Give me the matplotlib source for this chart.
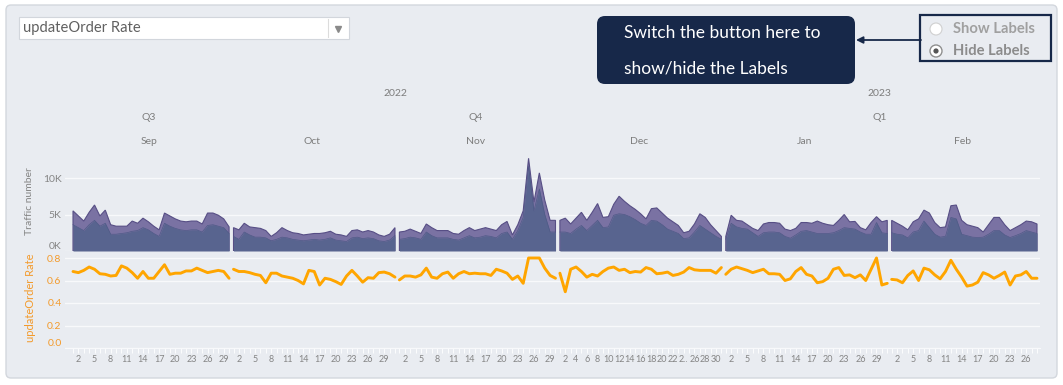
import matplotlib
matplotlib.use('Agg')
import matplotlib.pyplot as plt
from matplotlib.patches import FancyBboxPatch, Rectangle, Circle
import numpy as np

# ---------------- data ----------------
months = ['Sep', 'Oct', 'Nov', 'Dec', 'Jan', 'Feb']
quarters = [('Q3', [0]), ('Q4', [1, 2, 3]), ('Q1', [4, 5])]
years = [('2022', [0, 1, 2, 3]), ('2023', [4, 5])]

sep_total = [5.5, 4.8, 4.1, 5.3, 6.3, 4.8, 5.6, 3.6, 3.4, 3.4, 3.4, 4.1, 3.8, 4.5, 4.0,
             3.4, 2.9, 5.2, 4.8, 4.4, 4.1, 4.0, 4.1, 4.1, 3.7, 5.2, 5.2, 4.9, 4.4, 3.3]
sep_sub = [3.6, 3.2, 2.8, 3.6, 4.2, 3.4, 3.8, 2.3, 2.3, 2.4, 2.5, 2.7, 2.8, 3.2, 2.9,
           2.4, 2.0, 3.8, 3.4, 3.1, 2.9, 2.8, 2.9, 2.9, 2.6, 3.5, 3.6, 3.4, 3.2, 2.4]
oct_total = [3.2, 2.9, 3.8, 3.3, 3.2, 3.1, 2.8, 2.0, 2.5, 3.2, 2.8, 2.5, 2.4, 2.2, 2.3, 2.4,
             2.4, 2.5, 2.7, 2.3, 2.2, 2.0, 2.8, 2.9, 2.6, 2.8, 2.6, 2.2, 2.0, 2.3, 3.2]
oct_sub = [2.0, 1.6, 2.6, 2.2, 1.9, 1.9, 1.8, 1.4, 1.6, 1.9, 1.8, 1.6, 1.5, 1.4, 1.5, 1.6,
           1.5, 1.6, 1.8, 1.5, 1.4, 1.3, 1.8, 1.9, 1.7, 1.8, 1.7, 1.4, 1.3, 1.5, 2.1]
nov_total = [2.6, 2.7, 3.0, 2.7, 2.4, 3.7, 3.2, 2.8, 2.8, 2.8, 2.4, 2.3, 2.8, 3.2, 2.8,
             3.0, 3.2, 3.0, 2.8, 3.6, 4.05, 2.2, 3.6, 5.5, 12.7, 6.7, 10.7, 7.0, 4.2, 4.2]
nov_sub = [1.6, 1.7, 1.9, 1.8, 1.6, 2.6, 2.1, 1.8, 1.8, 1.8, 1.6, 1.5, 1.8, 2.1, 1.8,
           1.9, 2.1, 2.0, 1.8, 2.4, 2.6, 1.6, 2.8, 4.6, 11.6, 5.5, 8.5, 5.0, 2.6, 2.6]
dec_total = [4.2, 4.5, 3.7, 4.5, 5.3, 4.2, 5.3, 6.5, 4.6, 4.7, 6.4, 7.5, 6.8, 6.2, 5.7, 5.1,
             4.4, 5.8, 5.9, 5.2, 4.5, 4.0, 3.5, 2.5, 2.7, 3.7, 5.1, 4.6, 3.6, 2.8, 2.0]
dec_sub = [2.6, 2.6, 2.4, 3.0, 3.5, 2.8, 3.5, 4.2, 3.2, 3.3, 4.9, 5.1, 5.0, 4.7, 4.3, 3.8,
           3.5, 4.2, 4.1, 3.6, 3.0, 2.7, 2.4, 1.7, 1.8, 2.6, 3.5, 3.0, 2.5, 2.0, 1.6]
jan_total = [2.0, 4.9, 4.2, 4.1, 3.6, 3.1, 2.8, 3.7, 3.9, 3.9, 3.8, 3.0, 2.8, 3.1, 3.9, 3.9,
             3.8, 4.1, 3.8, 3.6, 3.5, 4.2, 5.0, 4.0, 4.05, 3.2, 2.9, 3.9, 4.7, 4.0, 4.2]
jan_sub = [1.6, 3.8, 3.3, 3.1, 3.0, 2.5, 2.0, 2.5, 2.6, 2.6, 2.5, 2.0, 1.75, 2.2, 2.7, 2.8,
           2.6, 2.4, 2.4, 2.4, 2.5, 2.8, 3.2, 3.1, 3.0, 2.6, 2.3, 2.3, 3.9, 2.5, 2.4]
feb_total = [4.2, 3.8, 3.4, 2.9, 4.0, 4.4, 5.6, 5.2, 3.9, 3.2, 3.3, 6.2, 6.3, 4.2, 3.6, 3.4,
             3.2, 2.6, 3.6, 4.6, 4.6, 3.6, 2.8, 3.2, 3.6, 4.1, 4.0, 3.7]
feb_sub = [2.5, 2.3, 2.2, 1.8, 2.6, 2.8, 4.1, 3.2, 2.3, 1.9, 2.0, 4.6, 4.4, 2.3, 2.1, 1.9,
           1.85, 1.9, 2.3, 2.8, 2.8, 2.2, 1.85, 2.1, 2.4, 2.8, 2.6, 2.4]

sep_rate = [0.68, 0.67, 0.69, 0.72, 0.70, 0.66, 0.655, 0.64, 0.645, 0.73, 0.71, 0.67, 0.62, 0.68,
            0.62, 0.62, 0.68, 0.74, 0.655, 0.665, 0.665, 0.685, 0.685, 0.71, 0.69, 0.67, 0.68,
            0.69, 0.68, 0.62]
oct_rate = [0.70, 0.68, 0.68, 0.67, 0.655, 0.645, 0.58, 0.665, 0.665, 0.64, 0.63, 0.62, 0.60,
            0.57, 0.69, 0.68, 0.56, 0.62, 0.61, 0.59, 0.565, 0.64, 0.69, 0.64, 0.585, 0.625,
            0.62, 0.67, 0.675, 0.66, 0.63]
nov_rate = [0.605, 0.64, 0.64, 0.63, 0.65, 0.71, 0.63, 0.62, 0.66, 0.675, 0.62, 0.66, 0.68,
            0.66, 0.665, 0.66, 0.66, 0.645, 0.70, 0.685, 0.665, 0.61, 0.64, 0.575, 0.80, 0.80,
            0.80, 0.71, 0.645, 0.62]
dec_rate = [0.665, 0.50, 0.70, 0.72, 0.68, 0.63, 0.655, 0.64, 0.68, 0.71, 0.72, 0.69, 0.70,
            0.67, 0.68, 0.675, 0.715, 0.70, 0.66, 0.665, 0.675, 0.645, 0.655, 0.675, 0.715,
            0.695, 0.69, 0.69, 0.69, 0.665, 0.715]
jan_rate = [0.655, 0.70, 0.72, 0.705, 0.69, 0.67, 0.685, 0.70, 0.66, 0.66, 0.655, 0.60, 0.615,
            0.68, 0.715, 0.655, 0.64, 0.58, 0.59, 0.62, 0.70, 0.715, 0.645, 0.65, 0.625, 0.65,
            0.60, 0.70, 0.80, 0.56, 0.575]
feb_rate = [0.61, 0.605, 0.58, 0.645, 0.685, 0.60, 0.71, 0.695, 0.65, 0.615, 0.68, 0.78, 0.70,
            0.63, 0.55, 0.56, 0.585, 0.67, 0.65, 0.62, 0.645, 0.675, 0.56, 0.64, 0.65, 0.68,
            0.62, 0.62]

totals = [sep_total, oct_total, nov_total, dec_total, jan_total, feb_total]
subs = [sep_sub, oct_sub, nov_sub, dec_sub, jan_sub, feb_sub]
rates = [sep_rate, oct_rate, nov_rate, dec_rate, jan_rate, feb_rate]

day_labels_every3 = list(range(2, 30, 3))
tick_days = [day_labels_every3, day_labels_every3, day_labels_every3,
             list(range(2, 31, 2)), day_labels_every3, list(range(2, 27, 3))]
truncated = {3: {24: '2..'}}

top_ticks = [0, 5, 10]
top_tick_labels = ['0K', '5K', '10K']
rate_ticks = [0.0, 0.2, 0.4, 0.6, 0.8]
rate_tick_labels = ['0.0', '0.2', '0.4', '0.6', '0.8']

# ---------------- layout ----------------
W, H = 1063, 385
plt.rcParams['font.family'] = ['Lato', 'DejaVu Sans']

BG = '#e9ecf1'
GRID = '#f8f9fb'
GRAY = '#858585'
ORANGE = '#ffa500'
ORANGE_TXT = '#f39a2b'
NAVY = '#172849'
OUTER = '#7a72a3'
OUTER_EDGE = '#574e85'
INNER = '#58648f'

fig = plt.figure(figsize=(W / 100, H / 100), dpi=100)
fig.patch.set_facecolor('white')

bg = fig.add_axes([0, 0, 1, 1])
bg.set_xlim(0, W)
bg.set_ylim(H, 0)
bg.axis('off')
bg.add_patch(FancyBboxPatch((6, 5), 1051, 373, boxstyle='round,pad=0,rounding_size=5',
                            fc=BG, ec='#d3d7dd', lw=1))


def px_axes(x0, y0, x1, y1):
    return fig.add_axes([x0 / W, 1 - y1 / H, (x1 - x0) / W, (y1 - y0) / H])


gap = 0.82
starts = []
pos = 0.0
for t in totals:
    starts.append(pos)
    pos += len(t) - 1 + gap
end_u = starts[-1] + len(totals[-1]) - 1
px_first, px_last = 73, 1037
ppu = (px_last - px_first) / end_u
AX_X0, AX_X1 = 65, 1040
xlim = ((AX_X0 - px_first) / ppu, (AX_X1 - px_first) / ppu)


def u2px(u):
    return px_first + u * ppu


# top area chart
ax1 = px_axes(AX_X0, 148, AX_X1, 251)
ax1.set_facecolor('none')
ax1.set_xlim(*xlim)
ax1.set_ylim(0, (251 - 148) / 7.3)
for s, tot, sub in zip(starts, totals, subs):
    xs = s + np.arange(len(tot))
    ax1.fill(np.r_[xs[0], xs, xs[-1]], np.r_[0, tot, 0], fc=OUTER, ec=OUTER_EDGE, lw=0.8, zorder=2)
    ax1.fill_between(xs, 0, sub, color=INNER, lw=0, zorder=3)
    ax1.plot(xs, sub, color='#4f5a87', lw=0.5, zorder=3)
ax1.set_yticks(top_ticks)
ax1.set_yticklabels(top_tick_labels)
ax1.yaxis.grid(True, color=GRID, lw=1)
ax1.set_axisbelow(True)
ax1.set_xticks([])
for sp in ax1.spines.values():
    sp.set_visible(False)
ax1.tick_params(axis='y', length=0, pad=2.5, labelsize=7.5, labelcolor=GRAY)
ax1.get_yticklabels()[0].set_va('bottom')

# bottom rate chart
ax2 = px_axes(AX_X0, 252, AX_X1, 348)
ax2.set_facecolor('none')
ax2.set_xlim(*xlim)
ax2.set_ylim(0, (348 - 252) / 112.5)
xt, xl = [], []
for m, (s, r) in enumerate(zip(starts, rates)):
    xs = s + np.arange(len(r))
    ax2.plot(xs, r, color=ORANGE, lw=2.1, solid_joinstyle='round', solid_capstyle='round', zorder=3)
    for d in range(1, len(r) + 1):
        xt.append(s + d - 1)
        if d in tick_days[m]:
            xl.append(truncated.get(m, {}).get(d, str(d)))
        else:
            xl.append('')
ax2.set_xticks(xt)
ax2.set_xticklabels(xl)
ax2.set_yticks(rate_ticks)
ax2.set_yticklabels(rate_tick_labels)
ax2.yaxis.grid(True, color=GRID, lw=1)
ax2.set_axisbelow(True)
for k, sp in ax2.spines.items():
    sp.set_visible(k == 'bottom')
ax2.spines['bottom'].set_color(GRID)
ax2.tick_params(axis='y', length=0, pad=2.5, labelsize=7.5, labelcolor=ORANGE_TXT)
ax2.tick_params(axis='x', length=3.5, width=0.8, color='#fbfcfd', pad=1.5,
                labelsize=6.5, labelcolor=GRAY)
ax2.get_yticklabels()[0].set_va('bottom')

# axis titles
bg.text(30, 201, 'Traffic number', rotation=90, ha='center', va='center', fontsize=7.5, color=GRAY)
bg.text(30, 298, 'updateOrder Rate', rotation=90, ha='center', va='center', fontsize=8,
        color=ORANGE_TXT)


# headers
def span_center(idx):
    a = starts[idx[0]]
    b = starts[idx[-1]] + len(totals[idx[-1]]) - 1
    return u2px((a + b) / 2) - 2


for name, idx in years:
    bg.text(span_center(idx), 93, name, ha='center', va='center', fontsize=7.5, color='#7d7d7d')
for name, idx in quarters:
    bg.text(span_center(idx), 117, name, ha='center', va='center', fontsize=7.5, color='#7d7d7d')
for i, name in enumerate(months):
    bg.text(span_center([i]), 141, name, ha='center', va='center', fontsize=7.5, color='#7d7d7d')

# dropdown
bg.add_patch(Rectangle((19, 17), 330, 22, fc='white', ec='#d2d6dc', lw=0.8))
bg.plot([328, 328], [19, 37], color='#dcdcdc', lw=0.8)
bg.plot([338], [28.5], marker='v', color='#8a8a8a', markersize=4)
bg.text(23, 28, 'updateOrder Rate', ha='left', va='center', fontsize=10.6, color='#606060')

# callout
bg.add_patch(FancyBboxPatch((597, 16), 258, 68, boxstyle='round,pad=0,rounding_size=8',
                            fc=NAVY, ec='none'))
bg.text(624, 33, 'Switch the button here to', ha='left', va='center', fontsize=12.5, color='white')
bg.text(624, 68, 'show/hide the Labels', ha='left', va='center', fontsize=12.5, color='white')
bg.annotate('', xy=(856, 40), xytext=(921, 40),
            arrowprops=dict(arrowstyle='-|>', color=NAVY, lw=1.3, mutation_scale=10,
                            shrinkA=0, shrinkB=0))

# radio buttons
bg.add_patch(Rectangle((920, 15), 131, 46, fill=False, ec=NAVY, lw=1.6))
bg.add_patch(Circle((936, 29), 6, fc='white', ec='#d0d0d0', lw=0.8))
bg.add_patch(Circle((936, 51), 6, fc='white', ec='#8f8f8f', lw=1.0))
bg.add_patch(Circle((936, 51), 2.6, fc='#555555', ec='none'))
bg.text(953, 29, 'Show Labels', ha='left', va='center', fontsize=10.6, color='#a0a0a0', weight='bold')
bg.text(953, 51, 'Hide Labels', ha='left', va='center', fontsize=10.6, color='#8c8c8c', weight='bold')

fig.savefig('out.png', dpi=100, facecolor='white')
